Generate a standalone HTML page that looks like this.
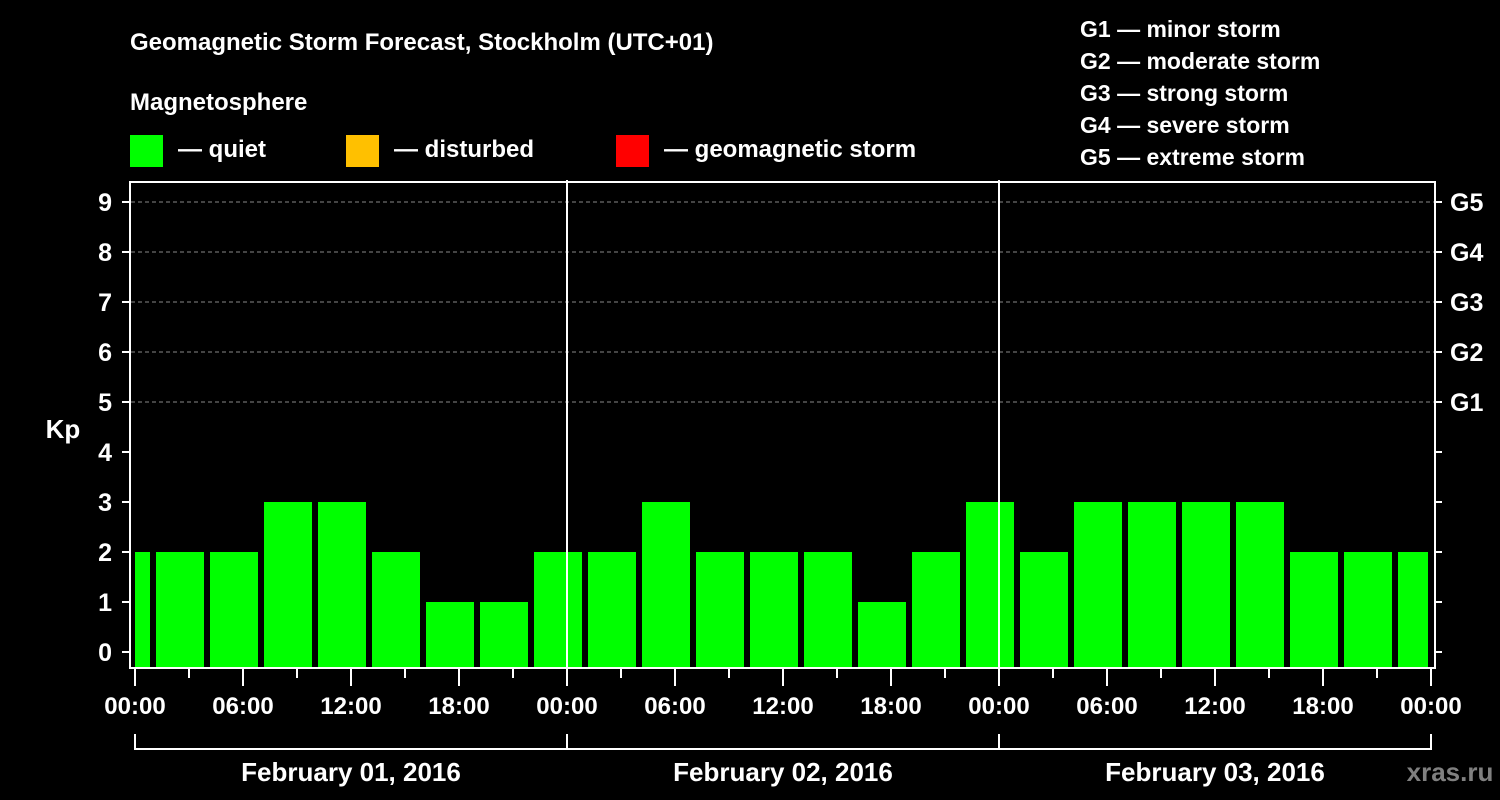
<!DOCTYPE html>
<html><head><meta charset="utf-8"><style>
html,body{margin:0;padding:0;background:#000;}
svg{display:block;font-family:"Liberation Sans",Arial,sans-serif;font-weight:bold;}
</style></head><body>
<svg id="chart" width="1500" height="800" viewBox="0 0 1500 800">
<rect width="1500" height="800" fill="#000"/>
<text x="130" y="50" fill="#fff" font-size="24">Geomagnetic Storm Forecast, Stockholm (UTC+01)</text>
<text x="130" y="110" fill="#fff" font-size="24">Magnetosphere</text>
<g><rect x="130" y="135" width="33" height="32" fill="#00ff00"/><text x="178" y="157" fill="#fff" font-size="24">— quiet</text></g>
<g><rect x="346" y="135" width="33" height="32" fill="#ffc000"/><text x="394" y="157" fill="#fff" font-size="24">— disturbed</text></g>
<g><rect x="616" y="135" width="33" height="32" fill="#ff0000"/><text x="664" y="157" fill="#fff" font-size="24">— geomagnetic storm</text></g>
<g fill="#fff" font-size="23">
<text x="1080" y="37">G1 — minor storm</text>
<text x="1080" y="69">G2 — moderate storm</text>
<text x="1080" y="101">G3 — strong storm</text>
<text x="1080" y="133">G4 — severe storm</text>
<text x="1080" y="165">G5 — extreme storm</text>
</g>
<g id="grid"></g>
<g id="bars"></g>
<g id="axes"></g>
<rect x="130" y="182" width="1305" height="486" fill="none" stroke="#fff" stroke-width="2"/>
<text x="63" y="438" fill="#fff" font-size="26" text-anchor="middle">Kp</text>
<text x="1450" y="781" fill="#808080" font-size="26" text-anchor="middle">xras.ru</text>
</svg>
<script>
const kpValues = [2, 2,2,3,3,2,1,1,2, 2,3,2,2,2,1,2,3, 2,3,3,3,3,2,2,2];
const barStartHour = -0.5;
const barStepHours = 3;
const yTicks = [0,1,2,3,4,5,6,7,8,9];
const gLabels = ["G1","G2","G3","G4","G5"];
const gLevels = [5,6,7,8,9];
const xTickLabels = ["00:00","06:00","12:00","18:00","00:00","06:00","12:00","18:00","00:00","06:00","12:00","18:00","00:00"];
const dayLabels = ["February 01, 2016","February 02, 2016","February 03, 2016"];

const NS = "http://www.w3.org/2000/svg";
const X0 = 135, PXH = 18, XMIN = 135, XMAX = 1428;
const xs = h => X0 + h * PXH;
const ys = v => 652 - v * 50;
function mk(tag, attrs, parent, txt){
  const e = document.createElementNS(NS, tag);
  for (const k in attrs) e.setAttribute(k, attrs[k]);
  if (txt !== undefined) e.textContent = txt;
  parent.appendChild(e); return e;
}
const grid = document.getElementById("grid"), bars = document.getElementById("bars"), axes = document.getElementById("axes");
gLevels.forEach((lv, i) => {
  const l = mk("line", {x1:131, x2:1434, y1:ys(lv), y2:ys(lv), stroke:"#888", "stroke-dasharray":"4,3", "stroke-width":1}, grid);
  
  
  const t = mk("text", {x:1450, y:ys(lv)+9, fill:"#fff", "font-size":25}, axes, gLabels[i]);
  
  
});
kpValues.forEach((v, i) => {
  const c = barStartHour + i * barStepHours;
  let x1 = xs(c) - 24, x2 = xs(c) + 24;
  x1 = Math.max(x1, XMIN); x2 = Math.min(x2, XMAX);
  const top = ys(v), bottom = 668;
  const r = mk("rect", {x:x1, y:top, width:x2-x1, height:bottom-top, fill:"#00ff00"}, bars);
  
  
});
[1,2].forEach(d => {
  const l = mk("line", {x1:xs(24*d), x2:xs(24*d), y1:180, y2:668, stroke:"#fff", "stroke-width":2}, axes);
  
  
});
yTicks.forEach(v => {
  mk("line", {x1:122, x2:130, y1:ys(v), y2:ys(v), stroke:"#fff", "stroke-width":2}, axes);
  mk("line", {x1:1435, x2:1442, y1:ys(v), y2:ys(v), stroke:"#fff", "stroke-width":2}, axes);
  const t = mk("text", {x:112, y:ys(v)+9, fill:"#fff", "font-size":25, "text-anchor":"end"}, axes, String(v));
  
  
});
for (let h = 0; h <= 72; h += 3) {
  const major = h % 6 === 0;
  mk("line", {x1:xs(h), x2:xs(h), y1:668, y2:major?686:678, stroke:"#fff", "stroke-width":2}, axes);
}
xTickLabels.forEach((lab, i) => {
  const t = mk("text", {x:xs(i*6), y:714, fill:"#fff", "font-size":24, "text-anchor":"middle"}, axes, lab);
  
  
});
mk("line", {x1:xs(0), x2:xs(72), y1:749, y2:749, stroke:"#fff", "stroke-width":2}, axes);
for (let d = 0; d <= 3; d++) mk("line", {x1:xs(24*d), x2:xs(24*d), y1:734, y2:750, stroke:"#fff", "stroke-width":2}, axes);
dayLabels.forEach((lab, i) => {
  const t = mk("text", {x:xs(24*i+12), y:781, fill:"#fff", "font-size":26, "text-anchor":"middle"}, axes, lab);
  
  
});
</script>
</body></html>
